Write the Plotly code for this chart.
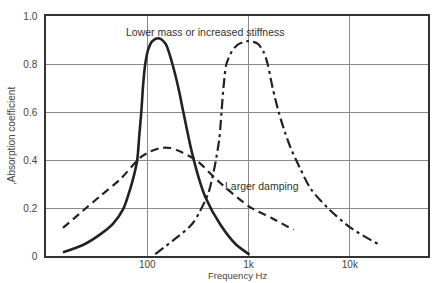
import plotly.graph_objects as go

# Baseline resonant absorber (solid)
solid_f = [14.7, 23.2, 34.3, 46.0, 57.8, 67.9, 74.3, 79.6, 83.3, 87.3, 91.3, 95.5, 102, 112,
           129, 151, 177, 203, 227, 273, 320, 375, 528, 743, 1023]
solid_a = [0.016, 0.046, 0.09, 0.135, 0.195, 0.28, 0.34, 0.40, 0.50, 0.60, 0.72, 0.80, 0.86, 0.895,
           0.907, 0.885, 0.80, 0.70, 0.60, 0.44, 0.33, 0.245, 0.13, 0.05, 0.006]

# Larger damping (dashed)
damp_f = [14.7, 24.9, 34.3, 54.1, 85.3, 107, 135, 169, 212, 313, 493, 1023, 1652, 2793]
damp_a = [0.117, 0.20, 0.25, 0.32, 0.41, 0.435, 0.45, 0.45, 0.435, 0.395, 0.315, 0.205, 0.16, 0.109]

# Lower mass or increased stiffness (dash-dot)
stiff_f = [120, 180, 273, 330, 404, 450, 481, 515, 541, 565, 605, 679, 778, 977, 1227, 1408,
           1543, 1730, 1983, 2271, 2606, 3273, 4111, 6058, 10233, 19360]
stiff_a = [0.008, 0.065, 0.13, 0.185, 0.266, 0.347, 0.41, 0.49, 0.60, 0.70, 0.80, 0.85, 0.88, 0.895,
           0.885, 0.85, 0.80, 0.70, 0.60, 0.52, 0.45, 0.36, 0.28, 0.20, 0.117, 0.048]

x_tickvals = [100, 1000, 10000]
x_ticktext = ["100", "1k", "10k"]
y_tickvals = [0, 0.2, 0.4, 0.6, 0.8, 1.0]
y_ticktext = ["0", "0.2", "0.4", "0.6", "0.8", "1.0"]

ink = "#222222"
fig = go.Figure()
fig.add_trace(go.Scatter(x=solid_f, y=solid_a, mode="lines",
                         line=dict(color=ink, width=2.6, shape="spline", smoothing=0.8)))
fig.add_trace(go.Scatter(x=damp_f, y=damp_a, mode="lines",
                         line=dict(color=ink, width=2.2, shape="spline", smoothing=0.8,
                                   dash="8px,5px")))
fig.add_trace(go.Scatter(x=stiff_f, y=stiff_a, mode="lines",
                         line=dict(color=ink, width=2.2, shape="spline", smoothing=0.8,
                                   dash="10px,4px,3px,4px")))

font = "Liberation Sans, Arial, sans-serif"
plot_h = 283 - 10 - 27
fig.update_layout(
    width=441, height=283,
    margin=dict(l=46, r=13, t=10, b=27),
    paper_bgcolor="white", plot_bgcolor="white",
    showlegend=False,
    font=dict(family=font, size=10, color="#444444"),
    xaxis=dict(type="log", range=[1.0, 4.772], tickvals=x_tickvals, ticktext=x_ticktext,
               showgrid=True, gridcolor="#8a8a8a", gridwidth=1,
               showline=True, linecolor="#333333", linewidth=1.5, mirror=True,
               ticks="", zeroline=False, ticklabelstandoff=-2,
               tickfont=dict(size=10, color="#444444")),
    yaxis=dict(range=[0, 1.0], tickvals=y_tickvals, ticktext=y_ticktext,
               showgrid=True, gridcolor="#8a8a8a", gridwidth=1,
               showline=True, linecolor="#333333", linewidth=1.5, mirror=True,
               ticks="", zeroline=False, ticklabelstandoff=5,
               tickfont=dict(size=10, color="#444444")),
    annotations=[
        dict(text="Lower mass or increased stiffness", x=2.574, y=0.935, xref="x", yref="y",
             showarrow=False, xanchor="center", yanchor="middle",
             font=dict(size=10.5, color="#333333", family=font)),
        dict(text="Larger damping", x=2.752, y=0.29, xref="x", yref="y",
             showarrow=False, xanchor="left", yanchor="middle",
             font=dict(size=10.5, color="#333333", family=font)),
        dict(text="Frequency Hz", x=0.5, y=-27 / plot_h, xref="paper", yref="paper",
             showarrow=False, xanchor="center", yanchor="bottom", borderpad=0,
             font=dict(size=9.5, color="#444444", family=font)),
        dict(text=",Absorption coefficient", x=-(46 - 11) / 382, y=0.5, xref="paper", yref="paper",
             showarrow=False, xanchor="center", yanchor="middle", textangle=-90,
             font=dict(size=10, color="#444444", family=font)),
    ],
)

fig.write_html("out.html")
